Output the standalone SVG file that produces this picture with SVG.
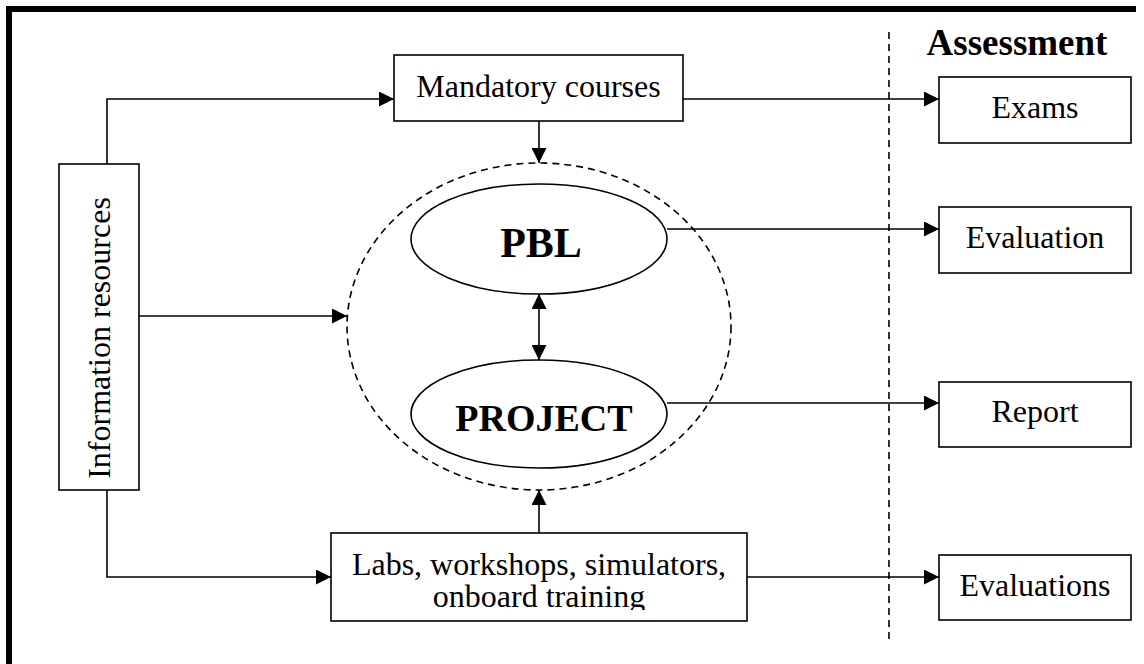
<svg xmlns="http://www.w3.org/2000/svg" width="1144" height="664" viewBox="0 0 1144 664">
<style>
.box{fill:#fff;stroke:#000;stroke-width:1.6}
.ell{fill:#fff;stroke:#000;stroke-width:1.6}
.t{font-family:"Liberation Serif","Times New Roman",serif;font-size:32px;fill:#000;text-anchor:middle}
.b{font-family:"Liberation Serif","Times New Roman",serif;font-weight:bold;fill:#000;text-anchor:middle}
.c{fill:none;stroke:#000;stroke-width:1.6}
.dash{fill:none;stroke:#000;stroke-width:1.6;stroke-dasharray:7 5}
</style>
<defs>
<marker id="ah" markerWidth="15" markerHeight="15" refX="15" refY="7.5" orient="auto" markerUnits="userSpaceOnUse">
<path d="M0,0 L15,7.5 L0,15 Z" fill="#000"/>
</marker>
<marker id="ahs" markerWidth="15" markerHeight="15" refX="15" refY="7.5" orient="auto-start-reverse" markerUnits="userSpaceOnUse">
<path d="M0,0 L15,7.5 L0,15 Z" fill="#000"/>
</marker>
<clipPath id="labsclip"><rect x="331" y="533" width="416" height="77"/></clipPath>
</defs>
<rect width="1144" height="664" fill="#fff"/>
<path d="M9,664 L9,9 L1136,9" fill="none" stroke="#000" stroke-width="6"/>
<line x1="889" y1="32" x2="889" y2="644" class="dash"/>
<g id="circle-group">
<ellipse cx="539" cy="326.5" rx="192" ry="163.5" class="dash"/>
</g>
<g id="connectors">
<path d="M107,164 L107,99 L394,99" class="c" marker-end="url(#ah)"/>
<path d="M107,490 L107,577 L331,577" class="c" marker-end="url(#ah)"/>
<path d="M139,316 L347,316" class="c" marker-end="url(#ah)"/>
<path d="M539,121 L539,163" class="c" marker-end="url(#ah)"/>
<path d="M539,533 L539,490" class="c" marker-end="url(#ah)"/>
<path d="M539,294 L539,360" class="c" marker-start="url(#ahs)" marker-end="url(#ah)"/>
<path d="M683,99 L939,99" class="c" marker-end="url(#ah)"/>
<path d="M667,229 L939,229" class="c" marker-end="url(#ah)"/>
<path d="M667,403 L939,403" class="c" marker-end="url(#ah)"/>
<path d="M747,577 L939,577" class="c" marker-end="url(#ah)"/>
</g>
<g id="mandatory">
<rect x="394" y="55" width="289" height="66" class="box"/>
<text x="538.5" y="97" class="t">Mandatory courses</text>
</g>
<g id="info">
<rect x="59" y="164" width="80" height="326" class="box"/>
<text transform="translate(110,338) rotate(-90)" x="0" y="0" class="t">Information resources</text>
</g>
<g id="pbl">
<ellipse cx="539" cy="239" rx="128" ry="55" class="ell"/>
<text x="541" y="257" class="b" font-size="42">PBL</text>
</g>
<g id="project">
<ellipse cx="539" cy="414" rx="128" ry="54" class="ell"/>
<text x="544" y="431" class="b" font-size="38">PROJECT</text>
</g>
<g id="labs">
<rect x="331" y="533" width="416" height="88" class="box"/>
<g clip-path="url(#labsclip)">
<text x="539" y="575" class="t">Labs, workshops, simulators,</text>
<text x="539" y="607" class="t">onboard training</text>
</g>
</g>
<g id="assessment">
<text x="1017" y="55" class="b" font-size="37">Assessment</text>
</g>
<g id="exams">
<rect x="939" y="77" width="192" height="66" class="box"/>
<text x="1035" y="118" class="t">Exams</text>
</g>
<g id="evaluation">
<rect x="939" y="207" width="192" height="66" class="box"/>
<text x="1035" y="248" class="t">Evaluation</text>
</g>
<g id="report">
<rect x="939" y="382" width="192" height="65" class="box"/>
<text x="1035" y="422" class="t">Report</text>
</g>
<g id="evaluations">
<rect x="939" y="555" width="192" height="65" class="box"/>
<text x="1035" y="596" class="t">Evaluations</text>
</g>
</svg>
